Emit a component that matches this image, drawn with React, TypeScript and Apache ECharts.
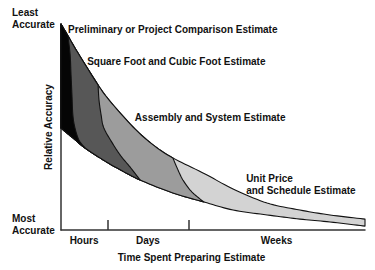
import { useEffect, useRef } from 'react';
import * as echarts from 'echarts';

// Curves (x: time 0-100, y: relative accuracy 0-100)
const upperCurve: [number, number][] = [
  [0, 100], [2.3, 94.2], [5.6, 85.9], [12.2, 70.4], [16.1, 62.6], [23.7, 50.0],
  [30.3, 41.3], [36.8, 35.0], [47.4, 27.2], [56.6, 19.9], [67.8, 13.1],
  [78.6, 9.7], [88.5, 7.3], [100, 5.3],
];
const lowerCurve: [number, number][] = [
  [0, 49.5], [3.9, 44.7], [7.9, 39.8], [12.8, 35.0], [17.8, 30.6], [26.0, 24.3],
  [36.8, 18.0], [47.0, 13.6], [56.6, 9.7], [67.8, 7.3], [78.6, 5.3],
  [88.5, 3.9], [100, 1.9],
];
// boundary between Preliminary and Square Foot
const boundary1: [number, number][] = [
  [2.3, 94.2], [3.0, 85.0], [3.3, 75.2], [3.6, 65.5], [3.9, 55.8], [4.6, 49.5],
  [5.9, 43.7], [7.9, 39.8],
];
// boundary between Square Foot and Assembly
const boundary2: [number, number][] = [
  [12.2, 70.4], [12.5, 63.1], [13.2, 55.8], [14.1, 49.5], [17.1, 41.7],
  [19.7, 35.9], [22.7, 30.6], [26.0, 24.3],
];
// boundary between Assembly and Unit Price
const boundary3: [number, number][] = [
  [36.8, 35.0], [38.2, 30.1], [40.1, 24.3], [43.1, 18.4], [47.0, 13.6],
];

const bandColors = ['#d3d3d3', '#9c9c9c', '#575757', '#050505'];

const phaseTicks = [15.5, 42.1];
const phaseCenters = [7.6, 28.6, 70.9];
const phaseNames = ['Hours', 'Days', 'Weeks'];

const accuracyValues = [0, 100];
const accuracyNames = ['Most\nAccurate', 'Least\nAccurate'];

const estimateNames = [
  'Preliminary or Project Comparison Estimate',
  'Square Foot and Cubic Foot Estimate',
  'Assembly and System Estimate',
  'Unit Price\nand Schedule Estimate',
];
const estimateAnchors: [number, number][] = [
  [2.3, 97.1], [8.6, 82.0], [24.3, 54.4], [60.9, 22.3],
];

const FONT = 'Arial, "Liberation Sans", sans-serif';

function smooth(pts: number[][], n = 10): number[][] {
  const out: number[][] = [];
  for (let i = 0; i < pts.length - 1; i++) {
    const p0 = pts[i - 1] || pts[i];
    const p1 = pts[i];
    const p2 = pts[i + 1];
    const p3 = pts[i + 2] || pts[i + 1];
    for (let s = 0; s < n; s++) {
      const t = s / n;
      const t2 = t * t;
      const t3 = t2 * t;
      const f = (a: number, b: number, c: number, d: number) =>
        0.5 * (2 * b + (-a + c) * t + (2 * a - 5 * b + 4 * c - d) * t2 + (-a + 3 * b - 3 * c + d) * t3);
      out.push([f(p0[0], p1[0], p2[0], p3[0]), f(p0[1], p1[1], p2[1], p3[1])]);
    }
  }
  out.push(pts[pts.length - 1]);
  return out;
}

function nearestIndex(arr: number[], v: number) {
  let best = 0;
  for (let i = 1; i < arr.length; i++) if (Math.abs(arr[i] - v) < Math.abs(arr[best] - v)) best = i;
  return best;
}

export default function App() {
  const ref = useRef<HTMLDivElement>(null);
  useEffect(() => {
    if (!ref.current) return;
    const chart = echarts.init(ref.current, null, { renderer: 'svg' });
    const boundaries = [null, boundary3, boundary2, boundary1];
    const textStyle = { fontFamily: FONT, fontWeight: 'bold' as const, fontSize: 10, color: '#111' };
    chart.setOption({
      animation: false,
      backgroundColor: '#ffffff',
      grid: { left: 61, right: 10, top: 24, bottom: 40, containLabel: false, outerBoundsMode: 'none' },
      xAxis: {
        type: 'value', min: 0, max: 100,
        name: 'Time Spent Preparing Estimate', nameLocation: 'middle', nameGap: 22,
        nameMoveOverlap: false,
        nameTextStyle: { ...textStyle, padding: [0, 43, 0, 0] },
        axisLine: { show: true, lineStyle: { color: '#333', width: 1.5 } },
        axisTick: { show: true, inside: true, length: 10, customValues: phaseTicks, lineStyle: { color: '#333', width: 1.5 } },
        axisLabel: {
          ...textStyle, margin: 5, customValues: phaseCenters,
          formatter: (v: number) => phaseNames[nearestIndex(phaseCenters, v)],
        },
        splitLine: { show: false },
      },
      yAxis: {
        type: 'value', min: 0, max: 100,
        name: 'Relative Accuracy', nameLocation: 'middle', nameGap: 8, nameRotate: 90,
        nameMoveOverlap: false,
        nameTextStyle: { ...textStyle },
        axisLine: { show: true, lineStyle: { color: '#333', width: 1.5 } },
        axisTick: { show: false },
        axisLabel: {
          ...textStyle, margin: 49, align: 'left', verticalAlign: 'middle', lineHeight: 12,
          customValues: accuracyValues,
          formatter: (v: number) => accuracyNames[nearestIndex(accuracyValues, v)] + '\n ',
        },
        splitLine: { show: false },
      },
      series: [
        {
          type: 'custom',
          clip: false,
          data: bandColors.map((_, i) => [i, 0]),
          renderItem: (params: any, api: any) => {
            const k = params.dataIndex;
            const up = smooth(upperCurve.map((p) => api.coord(p)));
            const lo = smooth(lowerCurve.map((p) => api.coord(p)));
            let points: number[][];
            const b = boundaries[k];
            if (!b) {
              points = [...up, ...lo.slice().reverse()];
            } else {
              const bd = smooth(b.map((p) => api.coord(p)));
              const topX = bd[0][0];
              const botX = bd[bd.length - 1][0];
              const u = up.filter((p) => p[0] < topX - 0.01);
              const l = lo.filter((p) => p[0] < botX - 0.01).reverse();
              points = [...u, ...bd, ...l];
            }
            return {
              type: 'polygon',
              shape: { points },
              style: { fill: bandColors[k], stroke: '#111', lineWidth: 1.1, lineJoin: 'round' },
            };
          },
          z: 2,
        },
        {
          type: 'custom',
          clip: false,
          data: estimateAnchors.map((p, i) => [p[0], p[1], i]),
          renderItem: (params: any, api: any) => {
            const pt = api.coord([api.value(0), api.value(1)]);
            return {
              type: 'text',
              x: pt[0], y: pt[1],
              style: {
                text: estimateNames[params.dataIndex],
                fontFamily: FONT, fontWeight: 'bold', fontSize: 10, fill: '#111',
                align: 'left', verticalAlign: 'middle', lineHeight: 12,
              },
            };
          },
          z: 3,
        },
      ],
    });
    return () => chart.dispose();
  }, []);
  return (
    <div
      ref={ref}
      style={{ position: 'fixed', left: 0, top: 0, width: 375, height: 270, background: '#fff' }}
    />
  );
}
